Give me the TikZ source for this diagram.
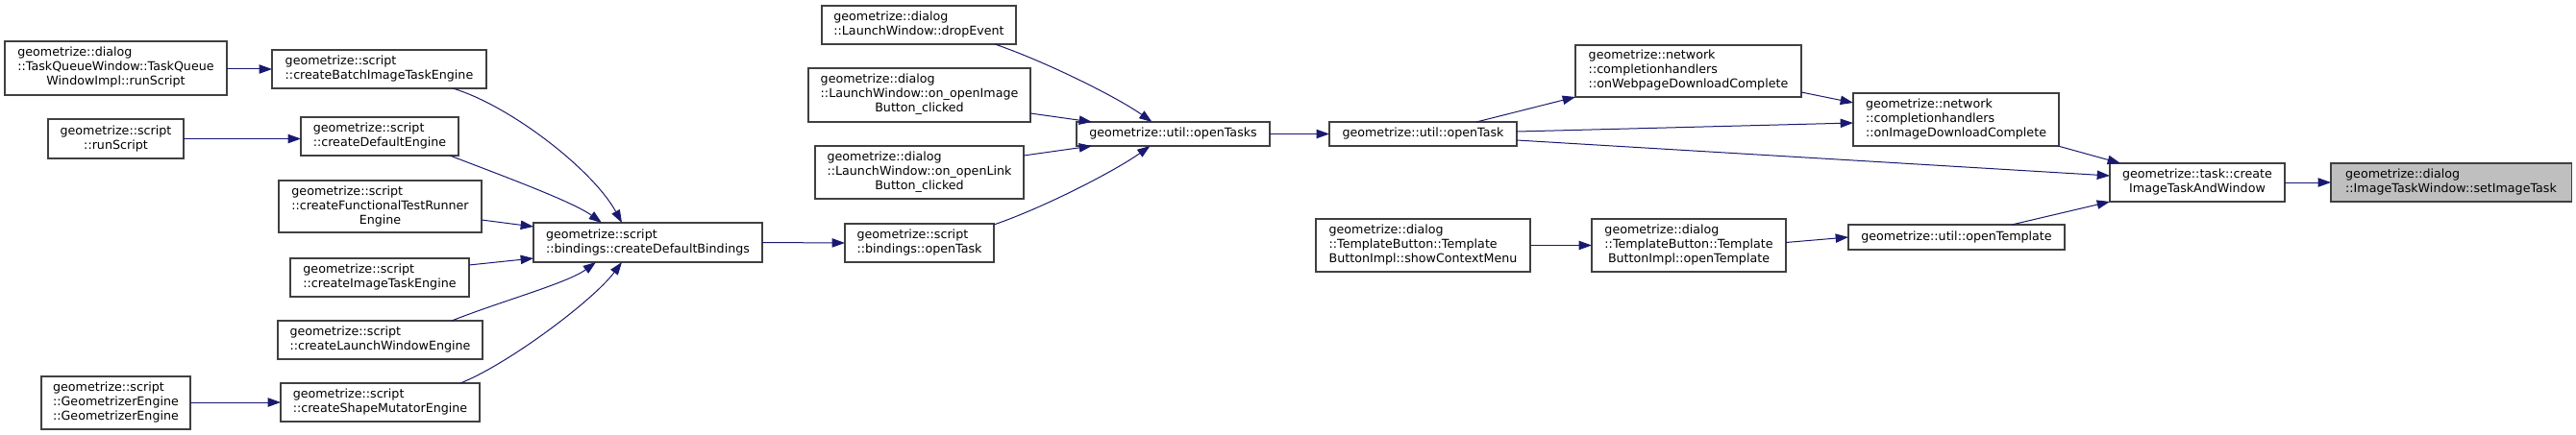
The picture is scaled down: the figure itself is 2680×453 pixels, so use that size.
\documentclass[tikz,border=0pt]{standalone}
\usepackage{fontspec}
\setmainfont{DejaVu Sans}
\usetikzlibrary{arrows.meta,calc}
\definecolor{edgecol}{HTML}{191970}
\definecolor{boxcol}{HTML}{404040}
\definecolor{curfill}{HTML}{BFBFBF}
\newcommand\ml[2]{\begin{tabular}{@{}l@{}}#1\\\multicolumn{1}{@{}c@{}}{#2}\end{tabular}}
\tikzset{
  fnbox/.style={draw=boxcol, line width=0.8pt, fill=white, rectangle, inner sep=0pt, outer sep=0pt,
    font=\fontsize{9.5}{11.25}\selectfont, align=center},
  curbox/.style={fnbox, fill=curfill},
  calls/.style={draw=edgecol, line width=0.75pt, -{Triangle[length=10pt,width=7pt]}}
}
\newcommand\bx[7][fnbox]{\node[#1, minimum width=#5*0.75pt, minimum height=#6*0.75pt] (#2) at (#3,#4) {#7};}
\begin{document}
\begin{tikzpicture}[x=0.75pt,y=-0.75pt]
\useasboundingbox (0,0) rectangle (2680,453);
% column 1
\bx{tqw}{120.5}{71}{231}{56}{\ml{geometrize::dialog\\::TaskQueueWindow::TaskQueue}{WindowImpl::runScript}}
\bx{runscript}{120.5}{144.5}{141}{41}{\ml{geometrize::script}{::runScript}}
\bx{geomeng}{120.5}{419.5}{155}{55}{\ml{geometrize::script\\::GeometrizerEngine}{::GeometrizerEngine}}
% column 2
\bx{batch}{394.5}{72}{223}{40}{\ml{geometrize::script}{::createBatchImageTaskEngine}}
\bx{defeng}{395}{142}{164}{40}{\ml{geometrize::script}{::createDefaultEngine}}
\bx{functest}{395.5}{215}{211}{54}{\ml{geometrize::script\\::createFunctionalTestRunner}{Engine}}
\bx{imgtask}{395}{289}{186}{40}{\ml{geometrize::script}{::createImageTaskEngine}}
\bx{launchwin}{395.5}{354}{213}{40}{\ml{geometrize::script}{::createLaunchWindowEngine}}
\bx{shapemut}{395.5}{419}{207}{40}{\ml{geometrize::script}{::createShapeMutatorEngine}}
% column 3
\bx{bindings}{674}{252.5}{238}{41}{\ml{geometrize::script}{::bindings::createDefaultBindings}}
% column 4
\bx{dropevent}{956}{26}{202}{40}{\ml{geometrize::dialog}{::LaunchWindow::dropEvent}}
\bx{openimg}{956.5}{99}{231}{56}{\ml{geometrize::dialog\\::LaunchWindow::on\_openImage}{Button\_clicked}}
\bx{openlink}{956.5}{179.5}{217}{55}{\ml{geometrize::dialog\\::LaunchWindow::on\_openLink}{Button\_clicked}}
\bx{bopentask}{956.5}{253}{155}{40}{\ml{geometrize::script}{::bindings::openTask}}
% column 5
\bx{opentasks}{1220.5}{139.5}{201}{25}{geometrize::util::openTasks}
% column 6
\bx{opentask}{1480.5}{139.5}{195}{25}{geometrize::util::openTask}
\bx{ctxmenu}{1480.5}{255.5}{223}{55}{\ml{geometrize::dialog\\::TemplateButton::Template}{ButtonImpl::showContextMenu}}
% column 7
\bx{webpage}{1756.5}{74}{235}{54}{\ml{geometrize::network\\::completionhandlers}{::onWebpageDownloadComplete}}
\bx{tbopentemplate}{1757}{255.5}{202}{55}{\ml{geometrize::dialog\\::TemplateButton::Template}{ButtonImpl::openTemplate}}
% column 8
\bx{imgdl}{2035}{124.5}{214}{55}{\ml{geometrize::network\\::completionhandlers}{::onImageDownloadComplete}}
\bx{uopentemplate}{2035.5}{247}{225}{26}{geometrize::util::openTemplate}
% column 9
\bx{createitw}{2286}{190}{182}{40}{\ml{geometrize::task::create}{ImageTaskAndWindow}}
% column 10
\bx[curbox]{setimagetask}{2550}{190}{250}{40}{\ml{geometrize::dialog}{::ImageTaskWindow::setImageTask}}

% edges
\draw[calls] (tqw.east |- batch.west) -- (batch.west);
\draw[calls] (runscript.east) -- (defeng.west |- runscript.east);
\draw[calls] (geomeng.east |- shapemut.west) -- (shapemut.west);

\draw[calls] ([shift={(-35,0)}]batch.south east) .. controls +(60,18) and +(-30,-55) .. ([shift={(92,0)}]bindings.north west);
\draw[calls] ([shift={(-9,0)}]defeng.south east) .. controls +(52,20) and +(-30,-22) .. ([shift={(71,0)}]bindings.north west);
\draw[calls] ([shift={(0,-13)}]functest.south east) -- ([shift={(0,4)}]bindings.north west);
\draw[calls] ([shift={(0,7)}]imgtask.north east) -- ([shift={(0,-4)}]bindings.south west);
\draw[calls] ([shift={(-32,0)}]launchwin.north east) .. controls +(50,-20) and +(-30,22) .. ([shift={(65,0)}]bindings.south west);
\draw[calls] ([shift={(-20,0)}]shapemut.north east) .. controls +(50,-20) and +(-30,40) .. ([shift={(92,0)}]bindings.south west);
\draw[calls] (bindings.east) -- (bopentask.west);

\draw[calls] ([shift={(-22,0)}]dropevent.south east) .. controls +(55,19) and +(-35,-25) .. ([shift={(-22,0)}]opentasks.north);
\draw[calls] ([shift={(0,-9)}]openimg.south east) -- ([shift={(16,0)}]opentasks.north west);
\draw[calls] ([shift={(0,10)}]openlink.north east) -- ([shift={(16,0)}]opentasks.south west);
\draw[calls] ([shift={(0,1)}]bopentask.north east) .. controls +(55,-19) and +(-35,25) .. ([shift={(-24,0)}]opentasks.south);
\draw[calls] (opentasks.east) -- (opentask.west);

\draw[calls] ([shift={(-42,0)}]opentask.north east) -- (webpage.south west);
\draw[calls] ([shift={(0,10)}]opentask.north east) -- ([shift={(0,-24)}]imgdl.south west);
\draw[calls] ([shift={(0,-6)}]opentask.south east) -- ([shift={(0,13)}]createitw.north west);
\draw[calls] ([shift={(0,-5)}]webpage.south east) -- ([shift={(0,10)}]imgdl.north west);
\draw[calls] ([shift={(-1,0)}]imgdl.south east) -- ([shift={(11,0)}]createitw.north west);
\draw[calls] ([shift={(-55,0)}]uopentemplate.north east) -- (createitw.south west);

\draw[calls] (ctxmenu.east) -- (tbopentemplate.west);
\draw[calls] ([shift={(0,-3)}]tbopentemplate.east) -- (uopentemplate.west);
\draw[calls] (createitw.east) -- (setimagetask.west);
\end{tikzpicture}
\end{document}
